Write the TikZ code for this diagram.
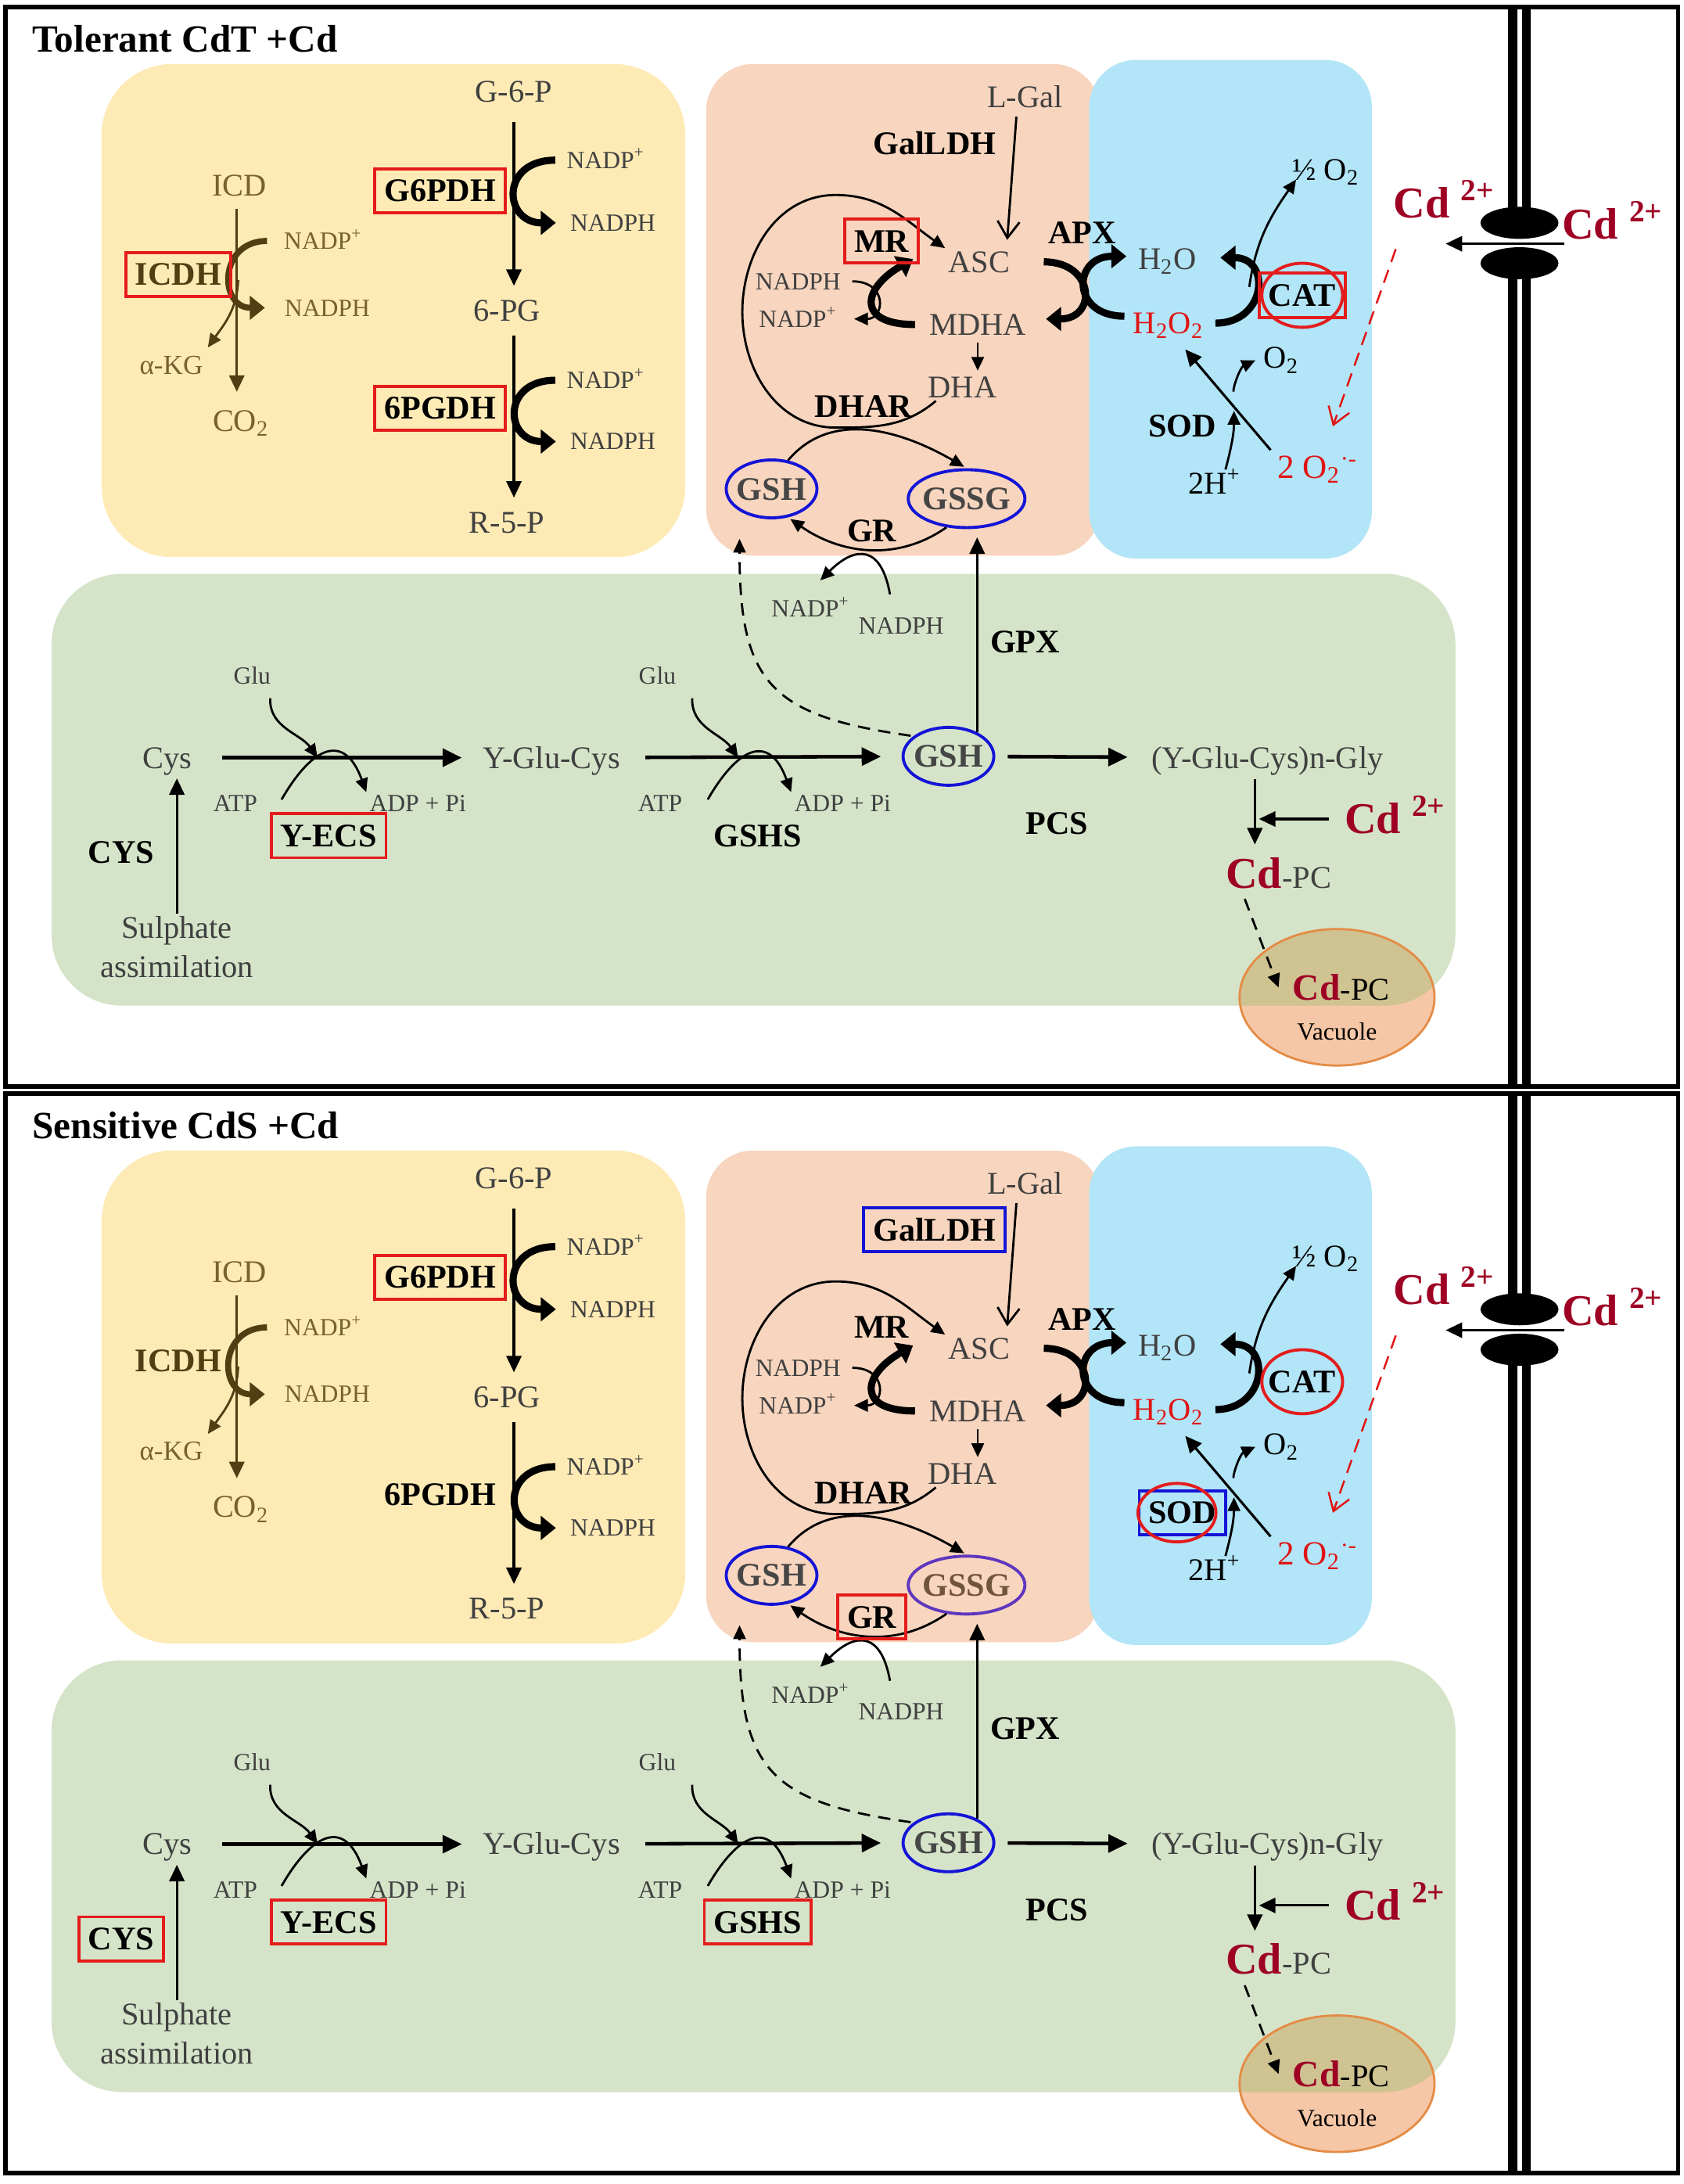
\documentclass[tikz,border=0pt]{standalone}
\usepackage{fontspec}
\setmainfont{Liberation Serif}
\usetikzlibrary{arrows.meta,positioning,shapes.geometric,fit}

\definecolor{yellowbg}{RGB}{254,234,181}
\definecolor{peachbg}{RGB}{248,213,190}
\definecolor{bluebg}{RGB}{178,229,247}
\definecolor{greenbg}{RGB}{213,228,201}
\definecolor{vacfill}{RGB}{246,199,166}
\definecolor{vacline}{RGB}{228,140,70}
\definecolor{vacolive}{RGB}{206,195,145}
\definecolor{metgray}{RGB}{64,64,64}
\definecolor{ringtext}{RGB}{70,70,70}
\definecolor{icdtext}{RGB}{120,97,48}
\definecolor{icddark}{RGB}{82,62,18}
\definecolor{boxred}{RGB}{228,28,28}
\definecolor{ringblue}{RGB}{20,20,215}
\definecolor{cdred}{RGB}{158,0,36}
\definecolor{rosred}{RGB}{225,20,20}
\definecolor{ringpurple}{RGB}{95,55,190}
\definecolor{gssgbrown}{RGB}{112,84,62}

\newcommand{\fmet}{\fontsize{11.5}{13}\selectfont}
\newcommand{\fcof}{\fontsize{9}{11}\selectfont}
\newcommand{\fenz}{\fontsize{12}{14}\selectfont\bfseries}
\newcommand{\fcd}{\fontsize{16}{18}\selectfont\bfseries}
\newcommand{\fttl}{\fontsize{14}{16}\selectfont\bfseries}

\tikzset{
  met/.style={font=\fmet, text=metgray, inner sep=1pt, text height=7.6pt, text depth=0pt},
  blk/.style={met, text=black},
  redmet/.style={met, text=rosred},
  cof/.style={font=\fcof, text=metgray, inner sep=1pt, text height=6pt, text depth=0pt},
  enz/.style={font=\fenz, text=black, inner sep=1pt, text height=8pt, text depth=0pt},
  ttl/.style={font=\fttl, inner sep=1pt, text height=9.3pt, text depth=0pt},
  icdmet/.style={met, text=icdtext},
  icdcof/.style={cof, text=icdtext},
  icdenz/.style={enz, text=icddark},
  ion/.style={font=\fcd, text=cdred, inner sep=1pt, text height=10.6pt, text depth=0pt},
  ring/.style={ellipse, draw=ringblue, line width=1.1pt, font=\fenz, text=ringtext,
    inner xsep=-1pt, inner ysep=0pt, minimum height=0.74cm, text height=8pt, text depth=0pt},
  arr/.style={-{Triangle[length=6pt,width=5.5pt]}, line width=0.9pt, shorten <=4pt, shorten >=4pt},
  brarr/.style={arr, color=icddark},
  harr/.style={-{Triangle[length=7pt,width=6.5pt]}, line width=1.3pt},
  slim/.style={-{Triangle[length=5pt,width=4.5pt]}, line width=0.8pt},
  brslim/.style={slim, color=icddark},
  fat/.style={-{Triangle[length=5.5pt,width=8.5pt]}, line width=2.6pt},
  brfat/.style={fat, line width=2.2pt, color=icddark},
  openarr/.style={-{Straight Barb[length=6pt,width=8pt]}, line width=0.8pt},
  dasharr/.style={slim, dash pattern=on 4.5pt off 3pt},
  reddash/.style={openarr, color=rosred, line width=0.7pt, dash pattern=on 5pt off 3pt},
  redbox/.style={draw=boxred, line width=1.1pt, inner xsep=2.2pt, inner ysep=2.8pt},
  bluebox/.style={redbox, draw=ringblue},
  redring/.style={draw=boxred, line width=1.1pt}
}

% one cell: #1 vertical shift, #2 name prefix, #3 title, #4 GSSG ring colours
\newcommand{\cdpanel}[4]{%
\begin{scope}[shift={(0,#1)}, name prefix=#2-]
  % compartments
  \fill[yellowbg, rounded corners=0.9cm] (73,-46) rectangle (492,-400);
  \fill[peachbg, rounded corners=0.6cm] (507,-46) rectangle (790,-399);
  \fill[bluebg, rounded corners=0.6cm] (782,-43) rectangle (985,-401);
  \fill[greenbg, rounded corners=0.9cm] (37,-412) rectangle (1045,-722);
  \fill[vacfill] (960,-716) ellipse [x radius=70, y radius=49];
  \begin{scope}
    \clip[rounded corners=0.9cm] (37,-412) rectangle (1045,-722);
    \fill[vacolive] (960,-716) ellipse [x radius=70, y radius=49];
  \end{scope}
  \draw[vacline, line width=0.8pt] (960,-716) ellipse [x radius=70, y radius=49];
  % cell border, membrane and channel
  \draw[line width=1.6pt] (4,-5) rectangle (1205,-780);
  \draw[line width=3.3pt] (1086,-5) -- (1086,-160) (1096,-5) -- (1096,-160)
    (1086,-189) -- (1086,-780) (1096,-189) -- (1096,-780);
  \fill (1091,-160) ellipse [x radius=28, y radius=11.5];
  \fill (1091,-189) ellipse [x radius=28, y radius=11.5];
  \node[ttl, anchor=west] (ttl) at (21,-28) {#3};
  \node[ion] (cdl) at (1037,-146) {Cd \textsuperscript{2+}};
  \node[ion] (cdr) at (1158,-161) {Cd \textsuperscript{2+}};
  \coordinate (cdin) at (1038,-175);
  \draw[arr, shorten <=0pt, shorten >=0pt] ([shift={(4,-14)}]cdr.west) -- (cdin);

  % pentose phosphate
  \node[met] (g6p) at (369,-66) {G-6-P};
  \node[met] (pg) at (364,-223) {6-PG};
  \node[met] (r5p) at (364,-375) {R-5-P};
  \node[enz] (g6pdh) at (316,-137) {G6PDH};
  \node[enz] (pgdh) at (316,-293) {6PGDH};
  \node[cof] (nadpa) at (435,-115) {NADP\textsuperscript{+}};
  \node[cof] (nadpha) at (440,-160) {NADPH};
  \node[cof] (nadpb) at (435,-273) {NADP\textsuperscript{+}};
  \node[cof] (nadphb) at (440,-317) {NADPH};
  \draw[arr, shorten <=6pt] (g6p.south) -- (g6p.south |- pg.north);
  \draw[arr] (g6p.south |- pg.south) -- (g6p.south |- r5p.north);
  \draw[fat, shorten <=3pt, shorten >=4pt] (nadpa.west) to[out=180,in=180,looseness=2.6] (nadpha.west);
  \draw[fat, shorten <=3pt, shorten >=4pt] (nadpb.west) to[out=180,in=180,looseness=2.6] (nadphb.west);

  % isocitrate
  \node[icdmet] (icd) at (172,-133) {ICD};
  \node[icdmet] (co2) at (173,-302) {CO\textsubscript{2}};
  \node[icdenz] (icdh) at (128,-197) {ICDH};
  \node[icdcof] (nadpc) at (232,-173) {NADP\textsuperscript{+}};
  \node[icdcof] (nadphc) at (235,-221) {NADPH};
  \node[icdmet, font=\fontsize{10}{12}\selectfont] (akg) at (123,-261) {α-KG};
  \coordinate (icdfork) at (171,-201);
  \draw[brarr, shorten <=3.5pt, shorten >=5.5pt] ([xshift=-1pt]icd.south) -- ([xshift=-1pt]icd.south |- co2.north);
  \draw[brslim, shorten >=1pt] (icdfork) to[out=-92,in=55] (akg.north east);
  \draw[brfat, shorten <=5pt, shorten >=6pt] (nadpc.west) to[out=180,in=180,looseness=2.4] (nadphc.west);

  % ascorbate and glutathione
  \node[met] (lgal) at (736,-70) {L-Gal};
  \node[enz] (galldh) at (671,-103) {GalLDH};
  \node[met] (asc) at (703,-188) {ASC};
  \node[met] (mdha) at (702,-233) {MDHA};
  \node[met] (dha) at (691,-278) {DHA};
  \node[enz] (mr) at (633,-173) {MR};
  \node[cof] (nadphd) at (573,-202) {NADPH};
  \node[cof] (nadpd) at (573,-229) {NADP\textsuperscript{+}};
  \node[enz] (dhar) at (620,-292) {DHAR};
  \node[ring] (gsha) at (554,-351) {GSH};
  \node[ring, #4] (gssg) at (694,-358) {GSSG};
  \node[enz] (gr) at (626,-381) {GR};
  \node[cof] (nadpe) at (582,-437) {NADP\textsuperscript{+}};
  \node[cof] (nadphe) at (647,-449) {NADPH};
  \draw[openarr, shorten <=2pt, shorten >=3pt] ([xshift=-3pt]lgal.south) -- ([xshift=10pt]asc.north);
  \draw[slim, shorten <=1.5pt, shorten >=1pt] (mdha.south) -- (mdha.south |- dha.north);
  \draw[fat] ([shift={(-8,0)}]mdha.west) to[out=180,in=210,looseness=2.3] ([shift={(-23,2)}]asc.west);
  \draw[slim, shorten <=3pt, shorten >=5pt] (nadphd.east) to[out=0,in=0,looseness=3] (nadpd.east);
  \draw[slim] ([xshift=4pt]dha.south west) to[out=220,in=0] (600,-307) to[out=180,in=-90] (533,-224)
    to[out=90,in=180] (600,-140) to[out=0,in=145] (asc.north west);
  \draw[slim, shorten >=1pt] (gsha.60) to[out=50,in=150] (gssg.north);
  \draw[slim, shorten >=1pt] (gssg.235) to[out=215,in=-35] (gsha.-60);
  \draw[slim] ([shift={(-8,14)}]nadphe.north) to[out=100,in=45,looseness=1.8] ([shift={(7,12)}]nadpe.north);

  % peroxide and superoxide
  \node[enz] (apx) at (777,-167) {APX};
  \node[met] (h2o) at (838,-186) {H\textsubscript{2}O};
  \node[redmet] (h2o2) at (839,-232) {H\textsubscript{2}O\textsubscript{2}};
  \node[enz] (cat) at (935,-212) {CAT};
  \node[blk] (halfo) at (952,-122) {½ O\textsubscript{2}};
  \node[blk] (o2) at (920,-257) {O\textsubscript{2}};
  \node[enz] (sod) at (849,-306) {SOD};
  \node[blk] (twoh) at (872,-347) {2H\textsuperscript{+}};
  \node[redmet, font=\fontsize{12.3}{14}\selectfont] (supox) at (946,-336) {2 O\textsubscript{2}\textsuperscript{·-}};
  \coordinate (catfork) at (897,-206);
  \coordinate (sodx) at (886,-293);
  \draw[fat] ([shift={(22,0)}]asc.east) to[out=0,in=0,looseness=2.3] ([shift={(12,4)}]mdha.east);
  \draw[fat] ([shift={(-4,5)}]h2o2.west) to[out=180,in=180,looseness=2.3] ([shift={(-6,2)}]h2o.west);
  \draw[fat] ([shift={(6,0)}]h2o2.east) to[out=0,in=0,looseness=2] ([shift={(15,1)}]h2o.east);
  \draw[slim] (catfork) to[out=82,in=235] ([shift={(5,3)}]halfo.south west);
  \draw[arr, shorten <=2pt, shorten >=0pt] (supox.north west) -- ([shift={(12,-9)}]h2o2.south);
  \draw[slim, shorten >=1pt] ([xshift=4pt]twoh.north) to[out=75,in=-90] (sodx);
  \draw[slim, shorten <=6pt, shorten >=2pt] (sodx) to[out=92,in=205] (o2.west);
  \draw[reddash] ([shift={(4,-20)}]cdl.south west) -- ([shift={(11,20)}]supox.north);

  % glutathione and phytochelatin synthesis
  \node[met] (cys) at (120,-544) {Cys};
  \node[met] (gec) at (396,-544) {Υ-Glu-Cys};
  \node[ring] (gshb) at (681,-543) {GSH};
  \node[met] (pcn) at (910,-544) {(Υ-Glu-Cys)n-Gly};
  \node[met] (sulph) at (127,-666) {Sulphate};
  \node[met] (assim) at (127,-694) {assimilation};
  \node[enz] (cysenz) at (87,-612) {CYS};
  \node[cof] (glua) at (181,-485) {Glu};
  \node[cof] (atpa) at (169,-577) {ATP};
  \node[cof] (adpa) at (300,-577) {ADP + Pi};
  \node[enz] (gecs) at (236,-600) {Υ-ECS};
  \node[cof] (glub) at (472,-485) {Glu};
  \node[cof] (atpb) at (474,-577) {ATP};
  \node[cof] (adpb) at (605,-577) {ADP + Pi};
  \node[enz] (gshs) at (544,-600) {GSHS};
  \node[enz] (gpx) at (736,-461) {GPX};
  \node[enz] (pcs) at (759,-591) {PCS};
  \node[ion] (cdb) at (1002,-588) {Cd \textsuperscript{2+}};
  \node[met, text height=10.6pt] (cdpc) at (918,-627) {\textcolor{cdred}{\fcd Cd}-PC};
  \node[met, text=black, text height=8.9pt] (vacpc) at (963,-709) {\textcolor{cdred}{\fontsize{13.5}{15}\selectfont\bfseries Cd}-PC};
  \node[cof, text=black] (vaclab) at (960,-741) {Vacuole};
  \coordinate (ecsa) at (228,-544);
  \coordinate (ecsb) at (530,-544);
  \coordinate (pcsplit) at (901,-588);
  \draw[arr, shorten <=0pt, shorten >=2.5pt] (sulph.north) -- (sulph.north |- cys.south);
  \draw[harr, shorten <=10pt, shorten >=6.5pt] (cys) -- (gec);
  \draw[harr, shorten <=8pt, shorten >=7.5pt] (gec) -- (gshb);
  \draw[harr, shorten <=4.5pt, shorten >=7.5pt] (gshb) -- (pcn);
  \draw[slim] ([shift={(13,-8)}]glua.south) to[out=-92,in=125] (ecsa);
  \draw[slim] ([shift={(25,-8)}]glub.south) to[out=-92,in=125] (ecsb);
  \draw[slim] ([shift={(15,3)}]atpa.east) to[out=60,in=110,looseness=1.9] (adpa.north west);
  \draw[slim] ([shift={(16,3)}]atpb.east) to[out=60,in=110,looseness=1.9] (adpb.north west);
  \draw[arr, shorten <=0pt, shorten >=3pt] (gshb.40) -- (gshb.40 |- gssg.south);
  \draw[dasharr, shorten <=1pt] (gshb.150) to[out=172,in=-90,looseness=1.4] ([shift={(-23,-14)}]gsha.south);
  \draw[arr, shorten <=2.7pt, shorten >=4pt] (pcsplit |- pcn.south) -- (pcsplit |- cdpc.north);
  \draw[arr, shorten <=4.5pt, shorten >=1.5pt] (cdb.west) -- (cdb.west -| pcsplit);
  \draw[dasharr, shorten <=3pt, shorten >=0pt] ([xshift=7pt]cdpc.south west) -- ([xshift=-4pt]vacpc.west);
\end{scope}}

\begin{document}
\begin{tikzpicture}[x=0.0178cm, y=0.0178cm]
  \useasboundingbox (0,0) rectangle (1209,-1568);

  \cdpanel{0}{T}{Tolerant CdT +Cd}{}
  \cdpanel{-780}{S}{Sensitive CdS +Cd}{draw=ringpurple, text=gssgbrown}

  % marks, tolerant line
  \foreach \e in {icdh,g6pdh,pgdh,mr,cat,gecs}
    \node[redbox, fit=(T-\e)] (T-\e-box) {};
  \draw[redring] (T-cat) ellipse [x radius=29, y radius=23];

  % marks, sensitive line
  \foreach \e in {g6pdh,gr,cysenz,gecs,gshs}
    \node[redbox, fit=(S-\e)] (S-\e-box) {};
  \foreach \e in {galldh,sod}
    \node[bluebox, fit=(S-\e)] (S-\e-box) {};
  \draw[redring] (S-cat) ellipse [x radius=29, y radius=23];
  \draw[redring] ([xshift=-2pt]S-sod.center) ellipse [x radius=28, y radius=21];
\end{tikzpicture}
\end{document}
